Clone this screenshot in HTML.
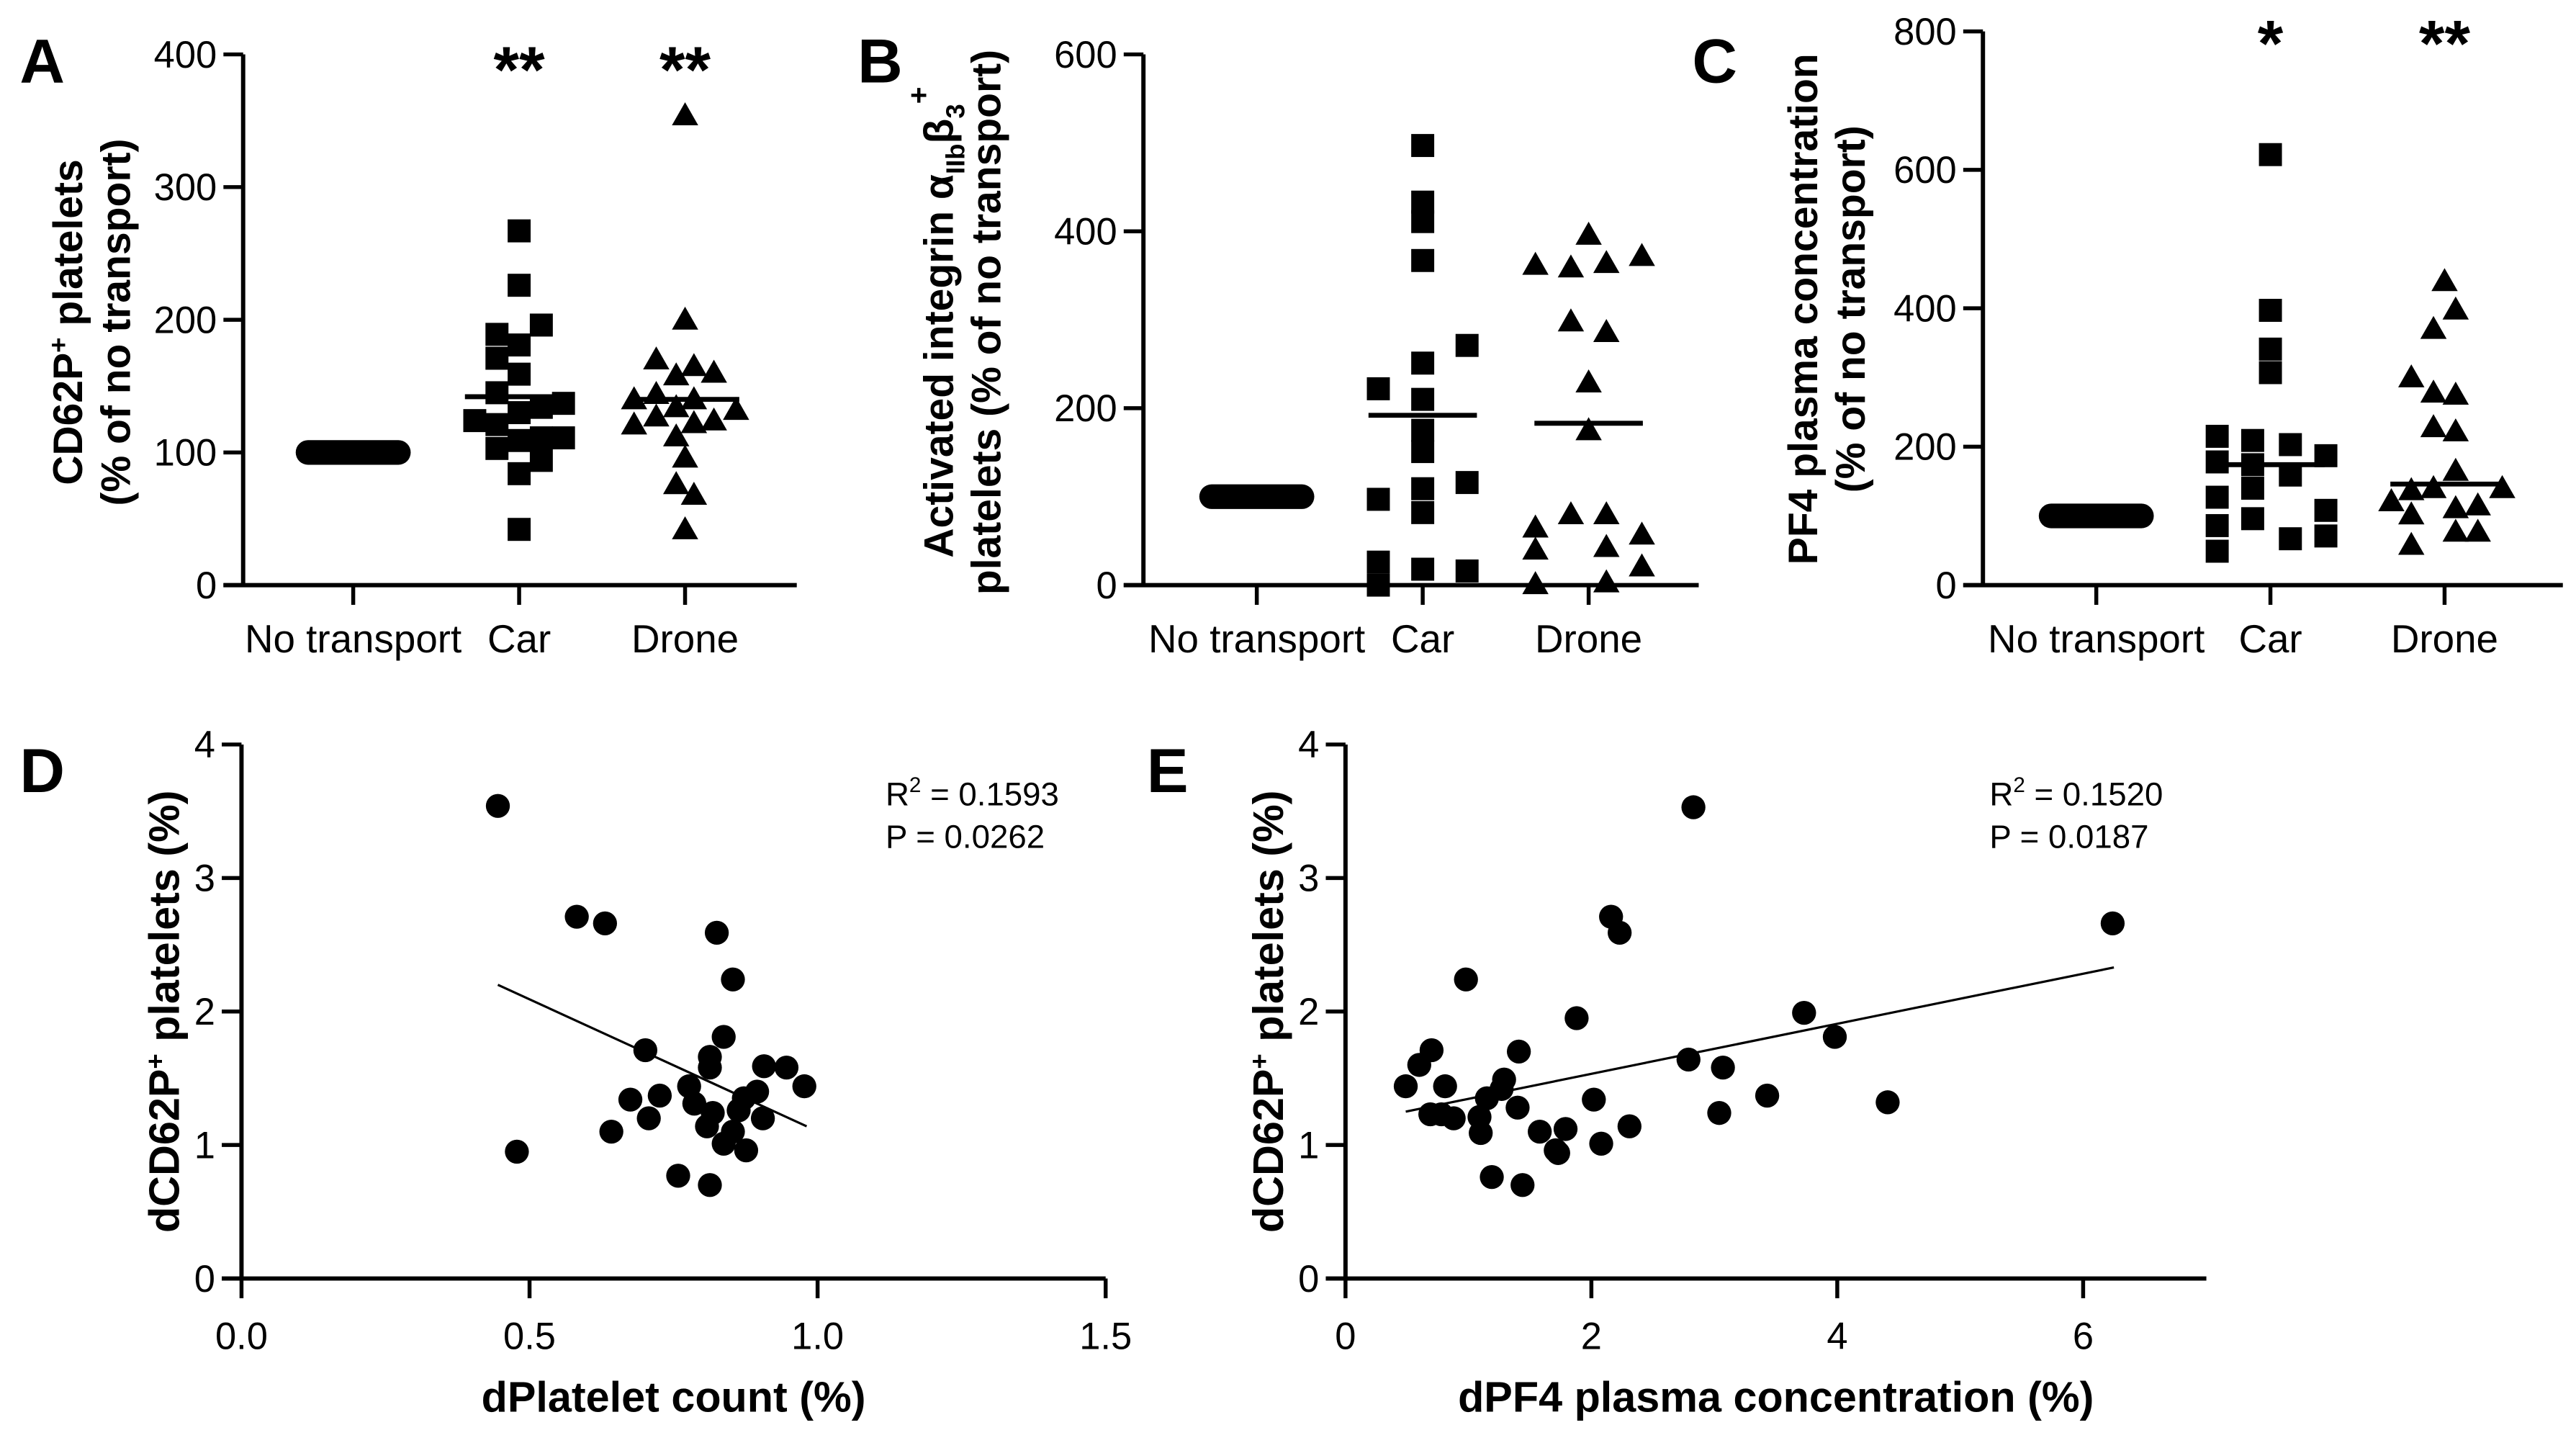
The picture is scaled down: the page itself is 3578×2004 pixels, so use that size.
<!DOCTYPE html>
<html><head><meta charset="utf-8"><style>
html,body{margin:0;padding:0;background:#fff}
svg{display:block}
text{font-family:"Liberation Sans Narrow","Liberation Sans",sans-serif;fill:#000}
.b{font-family:"Liberation Sans",sans-serif;font-weight:bold}
</style></head><body>
<svg id="fig" xmlns="http://www.w3.org/2000/svg" width="3578" height="2004" viewBox="0 0 1568 878"></svg>
<script>
// ---------- data ----------
const categories = ["No transport","Car","Drone"];
const aTicks = [0,100,200,300,400];
const aCar = [267,226,196,189,181,171,159,145,137,134,130,124,121,111,109,111,103,94,84,42];
const aCarSlot = [0,0,1,-1,0,-1,0,-1,2,1,0,-2,-1,2,0,1,-1,1,0,0];
const aDrone = [354,200,170,165,158,160,140,144,140,134,132,127,124,121,122,112,96,76,68,42];
const aDroneSlot = [0,0,-1.3,0.4,-0.4,1.3,-2.3,-1.3,0.4,-0.4,2.3,-1.3,1.3,-2.3,0.4,-0.4,0,-0.4,0.4,0];
const aMedians = [100,142,140];
const aStars = ["","**","**"];

const bTicks = [0,200,400,600];
const bCar = [497,433,411,367,271,251,222,210,175,151,116,97,109,82,26,18,16,0];
const bCarSlot = [0,0,0,0,2,0,-2,0,0,0,2,-2,0,0,-2,0,2,-2];
const bDrone = [396,362,359,364,372,298,286,229,175,80,80,65,57,40,43,21,1,3];
const bDroneSlot = [0,-2.4,-0.8,0.8,2.4,-0.8,0.8,0,0,-0.8,0.8,-2.4,2.4,-2.4,0.8,2.4,-2.4,0.8];
const bMedians = [100,192,183];

const cTicks = [0,200,400,600,800];
const cCar = [622,397,341,307,215,209,203,187,178,174,159,140,127,108,96,86,67,71,49];
const cCarSlot = [0,0,0,0,-2.4,-0.8,0.9,2.5,-2.4,-0.8,0.9,-0.8,-2.4,2.5,-0.8,-2.4,0.9,2.5,-2.4];
const cDrone = [439,398,370,300,278,275,228,222,165,137,140,140,121,111,115,102,77,77,58];
const cDroneSlot = [0,0.5,-0.5,-1.5,-0.5,0.5,-0.5,0.5,0.5,-1.5,-0.5,2.6,-2.4,0.5,1.5,-1.5,0.5,1.5,-1.5];
const cMedians = [100,174,146];
const cStars = ["","*","**"];

const dX = [0.445,0.478,0.582,0.631,0.825,0.853,0.837,0.701,0.813,0.813,0.907,0.946,0.977,0.777,0.895,0.726,0.675,0.786,0.872,0.863,0.818,0.707,0.905,0.808,0.642,0.853,0.837,0.876,0.758,0.813];
const dY = [3.54,0.95,2.71,2.66,2.59,2.24,1.81,1.71,1.66,1.58,1.59,1.58,1.44,1.44,1.40,1.37,1.34,1.31,1.35,1.26,1.24,1.20,1.20,1.14,1.10,1.10,1.01,0.96,0.77,0.70];
const dFitX = [0.445,0.981];
const dFitY = [2.20,1.14];
const dXTicks = [0,0.5,1.0,1.5];
const dXTickLabels = ["0.0","0.5","1.0","1.5"];
const scYTicks = [0,1,2,3,4];

const eX = [0.49,0.60,0.70,0.81,0.69,0.78,0.88,0.98,1.15,1.09,1.10,1.29,1.27,1.41,1.40,1.19,1.44,1.58,1.71,1.73,1.79,1.88,2.02,2.08,2.16,2.23,2.31,2.83,2.79,3.07,3.04,3.43,3.73,3.98,4.41,6.24];
const eY = [1.44,1.60,1.71,1.44,1.23,1.23,1.20,2.24,1.35,1.21,1.09,1.49,1.42,1.70,1.28,0.76,0.70,1.10,0.96,0.94,1.12,1.95,1.34,1.01,2.71,2.59,1.14,3.53,1.64,1.58,1.24,1.37,1.99,1.81,1.32,2.66];
const eFitX = [0.49,6.25];
const eFitY = [1.25,2.33];
const eXTicks = [0,2,4,6];

// ---------- helpers ----------
const NS="http://www.w3.org/2000/svg";
const svg=document.getElementById('fig');
function mk(tag,attrs,parent){const e=document.createElementNS(NS,tag);for(const k in attrs)e.setAttribute(k,attrs[k]);(parent||svg).appendChild(e);return e;}
function txt(s,x,y,size,opts,parent){const t=mk('text',Object.assign({x:x,y:y,'font-size':size},opts||{}),parent);t.textContent=s;return t;}
function line(x1,y1,x2,y2,w,parent){return mk('line',{x1,y1,x2,y2,stroke:'#000','stroke-width':w},parent);}

function columnPanel(cfg){
  const g=mk('g',{});
  
  
  const max=cfg.ticks[cfg.ticks.length-1];
  const y=v=>cfg.y0-(v/max)*(cfg.y0-cfg.yTop);
  const cx=i=>cfg.catX[i];
  const ya=line(cfg.ax,y(max),cfg.ax,cfg.y0,2.6,g);
  
  const xa=line(cfg.ax-12,cfg.y0,cfg.xEnd,cfg.y0,2.6,g);
  
  cfg.ticks.forEach(t=>{
    line(cfg.ax-12,y(t),cfg.ax,y(t),2.4,g);
    const l=txt(String(t),cfg.ax-16,y(t)+8,23,{'text-anchor':'end'},g);
    
  });
  categories.forEach((c,i)=>{
    line(cx(i),cfg.y0,cx(i),cfg.y0+12,2.4,g);
    const l=txt(c,cx(i),cfg.y0+41,24,{'text-anchor':'middle'},g);
    
  });
  const p=mk('rect',{x:cx(0)-35,y:y(cfg.medians[0])-7.5,width:70,height:15,rx:7.5,fill:'#000'},g);
  
  const slotW=13.5;
  cfg.car.forEach((v,k)=>{
    const xx=cx(1)+cfg.carSlot[k]*slotW, yy=y(v);
    const r=mk('rect',{x:xx-7,y:yy-7,width:14,height:14,fill:'#000'},g);
    
  });
  cfg.drone.forEach((v,k)=>{
    const xx=cx(2)+cfg.droneSlot[k]*slotW, yy=y(v);
    const t=mk('polygon',{points:`${xx},${yy-8} ${xx+8},${yy+6} ${xx-8},${yy+6}`,fill:'#000'},g);
    
  });
  [1,2].forEach(i=>{
    const m=line(cx(i)-33,y(cfg.medians[i]),cx(i)+33,y(cfg.medians[i]),3,g);
    
  });
  if(cfg.stars) cfg.stars.forEach((s,i)=>{ if(s){
    const st=txt(s,cx(i),cfg.starY,40,{'text-anchor':'middle','class':'b'},g);
    
  }});
  return g;
}

function scatterPanel(cfg){
  const g=mk('g',{});
  
  
  const xmax=cfg.xTicks[cfg.xTicks.length-1];
  const x=v=>cfg.ax+(v/xmax)*(cfg.x1-cfg.ax);
  const y=v=>cfg.y0-(v/4)*(cfg.y0-cfg.yTop);
  const ya=line(cfg.ax,cfg.yTop,cfg.ax,cfg.y0,2.6,g);
  
  const xa=line(cfg.ax-12,cfg.y0,cfg.xEnd,cfg.y0,2.6,g);
  
  scYTicks.forEach(t=>{
    line(cfg.ax-12,y(t),cfg.ax,y(t),2.4,g);
    const l=txt(String(t),cfg.ax-16,y(t)+8,23,{'text-anchor':'end'},g);
    
  });
  cfg.xTicks.forEach((t,i)=>{
    line(x(t),cfg.y0,x(t),cfg.y0+12,2.4,g);
    const l=txt(cfg.xLabels[i],x(t),cfg.y0+43,23,{'text-anchor':'middle'},g);
    
  });
  cfg.xs.forEach((v,k)=>{
    const c=mk('circle',{cx:x(v),cy:y(cfg.ys[k]),r:7.3,fill:'#000'},g);
    
  });
  const f=line(x(cfg.fitX[0]),y(cfg.fitY[0]),x(cfg.fitX[1]),y(cfg.fitY[1]),1.4,g);
  
  const st=mk('text',{x:cfg.statX,y:cfg.statY,'font-size':20},g);
  
  st.innerHTML='R<tspan dy="-8" font-size="13">2</tspan><tspan dy="8"> = '+cfg.r2+'</tspan>';
  const pt=txt('P = '+cfg.p,cfg.statX,cfg.statY+26,20,{},g);
  
  const xt=txt(cfg.xTitle,(cfg.ax+cfg.xEnd)/2,cfg.y0+81,26,{'text-anchor':'middle','class':'b'},g);
  
  const yt=txt('dCD62P',0,0,26,{'text-anchor':'middle','class':'b',transform:`translate(${cfg.ax-38},${(cfg.y0+cfg.yTop)/2}) rotate(-90)`},g);
  
  yt.innerHTML='dCD62P<tspan dy="-9" font-size="16">+</tspan><tspan dy="9"> platelets (%)</tspan>';
  return g;
}

// ---------- panels ----------
columnPanel({name:'panel-a',ax:148,y0:356,yTop:33,xEnd:485,catX:[215,316,417],ticks:aTicks,car:aCar,carSlot:aCarSlot,drone:aDrone,droneSlot:aDroneSlot,medians:aMedians,stars:aStars,starY:56});
columnPanel({name:'panel-b',ax:696,y0:356,yTop:33,xEnd:1034,catX:[765,866,967],ticks:bTicks,car:bCar,carSlot:bCarSlot,drone:bDrone,droneSlot:bDroneSlot,medians:bMedians});
columnPanel({name:'panel-c',ax:1207,y0:356,yTop:19,xEnd:1560,catX:[1276,1382,1488],ticks:cTicks,car:cCar,carSlot:cCarSlot,drone:cDrone,droneSlot:cDroneSlot,medians:cMedians,stars:cStars,starY:40});
scatterPanel({name:'panel-d',ax:147,x1:673,y0:778,yTop:453,xEnd:673,xTicks:dXTicks,xLabels:dXTickLabels,xs:dX,ys:dY,fitX:dFitX,fitY:dFitY,statX:539,statY:490,r2:'0.1593',p:'0.0262',xTitle:'dPlatelet count (%)'});
scatterPanel({name:'panel-e',ax:819,x1:1268,y0:778,yTop:453,xEnd:1343,xTicks:eXTicks,xLabels:eXTicks.map(String),xs:eX,ys:eY,fitX:eFitX,fitY:eFitY,statX:1211,statY:490,r2:'0.1520',p:'0.0187',xTitle:'dPF4 plasma concentration (%)'});

[['A',12,50],['B',522,50],['C',1030,50],['D',12,482],['E',698,482]].forEach(([l,x,y])=>{
  const t=txt(l,x,y,38,{'class':'b'});
  
  
});

function ytitle(lines,x,cy,name){
  lines.forEach((h,i)=>{
    const t=mk('text',{x:0,y:0,'font-size':25,'text-anchor':'middle','class':'b',transform:`translate(${x+i*29},${cy}) rotate(-90)`});
    t.innerHTML=h;
    
    
  });
}
ytitle(['CD62P<tspan dy="-9" font-size="16">+</tspan><tspan dy="9"> platelets</tspan>','(% of no transport)'],50,196,'a-y-axis-title');
ytitle(['Activated integrin α<tspan dy="7" font-size="16">IIb</tspan><tspan dy="-7">β</tspan><tspan dy="7" font-size="16">3</tspan><tspan dy="-22" font-size="18">+</tspan>','platelets (% of no transport)'],580,196,'b-y-axis-title');
ytitle(['PF4 plasma concentration','(% of no transport)'],1106,188,'c-y-axis-title');
</script>
</body></html>
